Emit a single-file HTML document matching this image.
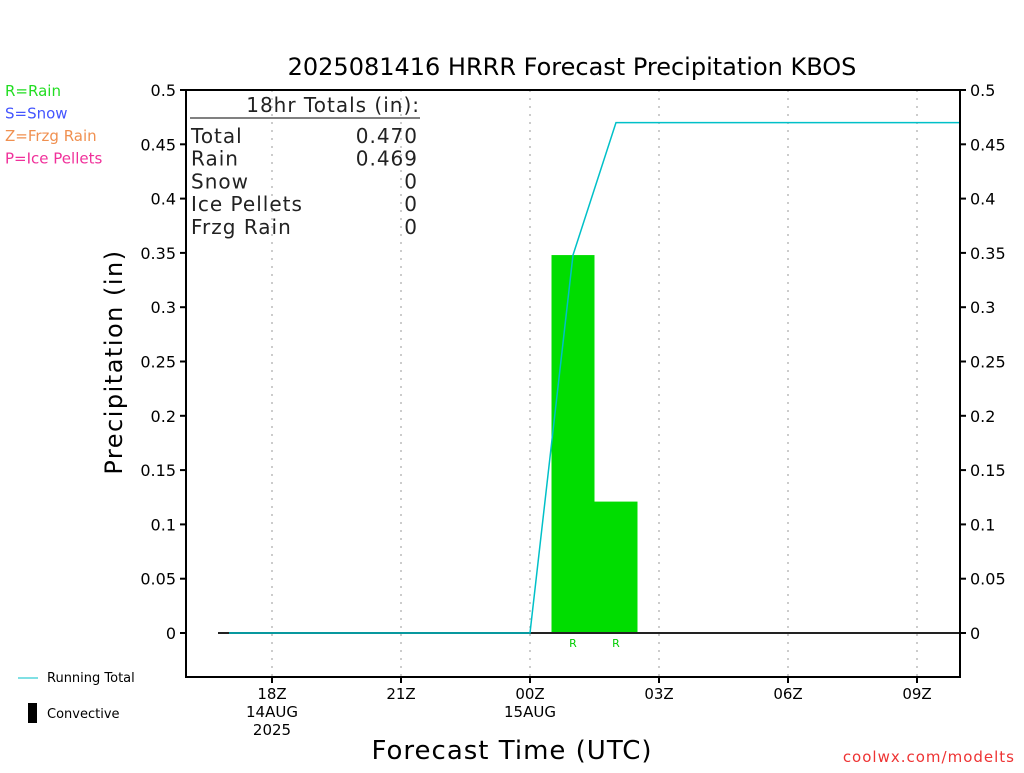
<!DOCTYPE html>
<html><head><meta charset="utf-8"><style>
body{margin:0;background:#fff;width:1024px;height:768px;overflow:hidden}
svg text{font-family:"DejaVu Sans","Liberation Sans",sans-serif}
</style></head><body>
<svg id="c" width="1024" height="768" xmlns="http://www.w3.org/2000/svg"></svg>
<script>
const hours=[1,2,3,4,5,6,7,8,9,10,11,12,13,14,15,16,17,18];
const runningTotal=[0,0,0,0,0,0,0,0,0.348,0.470,0.470,0.470,0.470,0.470,0.470,0.470,0.470,0.470];
const barHours=[9,10];
const barValues=[0.348,0.121];
const barTypes=["R","R"];
const yTicks=[0,0.05,0.1,0.15,0.2,0.25,0.3,0.35,0.4,0.45,0.5];
const yTickLabels=["0","0.05","0.1","0.15","0.2","0.25","0.3","0.35","0.4","0.45","0.5"];
const xTickHours=[2,5,8,11,14,17];
const xTickLabels=[["18Z","14AUG","2025"],["21Z"],["00Z","15AUG"],["03Z"],["06Z"],["09Z"]];
const totalsNames=["Total","Rain","Snow","Ice Pellets","Frzg Rain"];
const totalsVals=["0.470","0.469","0","0","0"];

const L=186,R=960,T=90,B=677;
const X=h=>L+h*43;
const Y=v=>633-v*1086;
const svg=document.getElementById('c');
function mk(tag,attrs,name,txt){const e=document.createElementNS('http://www.w3.org/2000/svg',tag);for(const k in attrs)e.setAttribute(k,attrs[k]);


if(txt!==undefined)e.textContent=txt;svg.appendChild(e);return e;}

mk('text',{x:572,y:75,'text-anchor':'middle','font-size':24,fill:'#000'},'chart-title','2025081416 HRRR Forecast Precipitation KBOS');
// gridlines
xTickHours.forEach((h,i)=>{mk('line',{x1:X(h),x2:X(h),y1:T,y2:B,stroke:'#bbb','stroke-dasharray':'2,6','stroke-width':1.5},'x-gridline');});
// bars
barHours.forEach((h,i)=>{mk('rect',{x:X(h-0.5),y:Y(barValues[i]),width:43,height:Y(0)-Y(barValues[i]),fill:'#00dd00'},'bar-hour-'+h);
mk('text',{x:X(h),y:647,'text-anchor':'middle','font-size':11,fill:'#00cc00'},'bar-type-label',barTypes[i]);});
// zero line
mk('line',{x1:218,x2:R,y1:Y(0),y2:Y(0),stroke:'#222','stroke-width':2},'zero-line');
// running total
mk('polyline',{points:hours.map((h,i)=>X(h)+','+Y(runningTotal[i])).join(' '),fill:'none',stroke:'#00c0c8','stroke-width':1.5},'running-total-line');
// axes
mk('rect',{x:L,y:T,width:R-L,height:B-T,fill:'none',stroke:'#000','stroke-width':2},'plot-frame');
yTicks.forEach((v,i)=>{
mk('line',{x1:L-6,x2:L,y1:Y(v),y2:Y(v),stroke:'#000','stroke-width':2},'y-tick-left');
mk('line',{x1:R,x2:R+6,y1:Y(v),y2:Y(v),stroke:'#000','stroke-width':2},'y-tick-right');
mk('text',{x:L-10,y:Y(v)+6,'text-anchor':'end','font-size':16,fill:'#000'},'y-tick-label-left',yTickLabels[i]);
mk('text',{x:R+10,y:Y(v)+6,'font-size':16,fill:'#000'},'y-tick-label-right',yTickLabels[i]);});
xTickHours.forEach((h,i)=>{
mk('line',{x1:X(h),x2:X(h),y1:B,y2:B+6,stroke:'#000','stroke-width':2},'x-tick');
xTickLabels[i].forEach((s,j)=>mk('text',{x:X(h),y:699+j*18,'text-anchor':'middle','font-size':15,fill:'#000'},'x-tick-label',s));});
mk('text',{x:512,y:759,'text-anchor':'middle','font-size':26,fill:'#000','letter-spacing':1},'x-axis-title','Forecast Time (UTC)');
mk('text',{x:0,y:0,transform:'translate(122,362) rotate(-90)','text-anchor':'middle','font-size':24,fill:'#000','letter-spacing':1.5},'y-axis-title','Precipitation (in)');
// totals box
mk('text',{x:420,y:112,'text-anchor':'end','font-size':20,fill:'#222','letter-spacing':1},'totals-heading','18hr Totals (in):');
mk('line',{x1:190,x2:420,y1:118,y2:118,stroke:'#000','stroke-width':1},'totals-underline');
totalsNames.forEach((n,i)=>{mk('text',{x:191,y:143+i*22.7,'font-size':20,fill:'#222','letter-spacing':1},'totals-name',n);
mk('text',{x:418,y:143+i*22.7,'text-anchor':'end','font-size':20,fill:'#222','letter-spacing':1},'totals-value',totalsVals[i]);});
// legend
[["R=Rain","#22dd22"],["S=Snow","#4455ff"],["Z=Frzg Rain","#f09050"],["P=Ice Pellets","#f0309a"]].forEach((p,i)=>mk('text',{x:5,y:96+i*22.5,'font-size':15,fill:p[1]},'precip-type-legend',p[0]));
mk('line',{x1:18,x2:38,y1:678,y2:678,stroke:'#00c0c8','stroke-width':1},'legend-running-total-swatch');
mk('text',{x:47,y:682,'font-size':13,fill:'#000'},'legend-running-total','Running Total');
mk('rect',{x:28,y:703,width:9,height:20,fill:'#000'},'legend-convective-swatch');
mk('text',{x:47,y:718,'font-size':13,fill:'#000'},'legend-convective','Convective');
mk('text',{x:1015,y:762,'text-anchor':'end','font-size':15,fill:'#ee3333','letter-spacing':1},'credit','coolwx.com/modelts');
</script></body></html>
